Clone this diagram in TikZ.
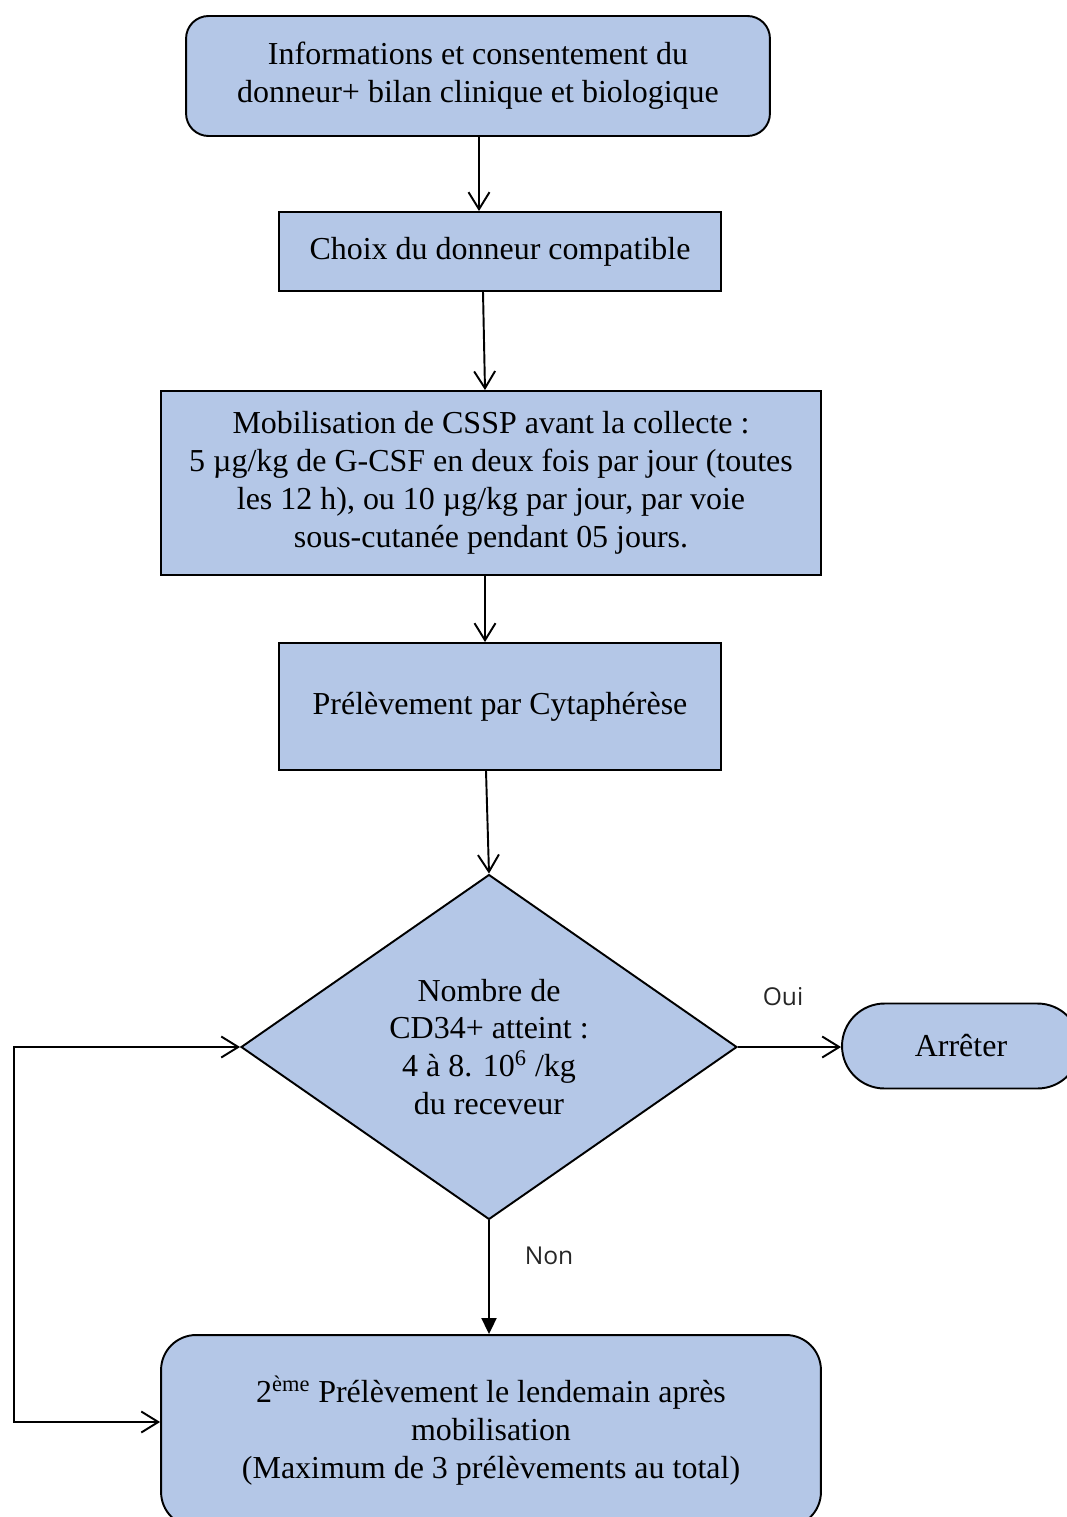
\documentclass[tikz,border=0pt]{standalone}
\usepackage{fontspec}
\setmainfont{Liberation Serif}
\newfontfamily\ouinonfont{Open Sans}
\usetikzlibrary{positioning,arrows.meta,shapes.geometric}
\definecolor{boxblue}{HTML}{B4C7E7}

\begin{document}
\begin{tikzpicture}[x=0.02cm, y=-0.02cm,
  lbl/.style={font=\ouinonfont\fontsize{14}{16}\selectfont, inner sep=1pt, text=black!85},
  stepbox/.style={draw=black, line width=1.1pt, fill=boxblue, align=center, inner sep=0pt,
    font=\fontsize{18.2}{21.6}\selectfont},
  roundbox/.style={stepbox, rounded corners=0.45cm},
  decision/.style={stepbox, diamond, aspect=1.44, minimum width=9.92cm, minimum height=6.9cm},
  pill/.style={stepbox, rounded corners=0.85cm},
  flowedge/.style={draw=black, line width=1.1pt, -{Straight Barb[length=0.34cm, width=0.42cm, line width=1.1pt]}},
  loopedge/.style={draw=black, line width=1.1pt,
    {Straight Barb[length=0.34cm, width=0.42cm, line width=1.1pt]}-{Straight Barb[length=0.34cm, width=0.42cm, line width=1.1pt]}},
  nonedge/.style={draw=black, line width=1.1pt, -{Triangle[length=0.32cm, width=0.3cm]}}
]
\clip (0,0) rectangle (1067,1517);

\node[roundbox, minimum width=11.68cm, minimum height=2.4cm] (info) at (478,76)
  {Informations et consentement du\\donneur+ bilan clinique et biologique};
\node[stepbox, minimum width=8.84cm, minimum height=1.58cm] (choix) at (500,251.5)
  {Choix du donneur compatible};
\node[stepbox, minimum width=13.2cm, minimum height=3.68cm] (mobil) at (491,483)
  {Mobilisation de CSSP avant la collecte :\\
   5 µg/kg de G-CSF en deux fois par jour (toutes\\
   les 12 h), ou 10 µg/kg par jour, par voie\\
   sous-cutanée pendant 05 jours.};
\node[stepbox, minimum width=8.84cm, minimum height=2.54cm] (prelev) at (500,706.5)
  {Prélèvement par Cytaphérèse};
\node[decision] (cd34) at (489,1047)
  {Nombre de\\CD34+ atteint :\\4 à 8. 10\textsuperscript{6} /kg\\du receveur};
\node[pill, minimum width=4.76cm, minimum height=1.7cm] (stop) at (961,1046) {Arrêter};
\node[roundbox, rounded corners=0.7cm, minimum width=13.2cm, minimum height=3.84cm] (second) at (491,1431)
  {2\textsuperscript{ème} Prélèvement le lendemain après\\mobilisation\\(Maximum de 3 prélèvements au total)};
\coordinate (loopa) at (14,1422);

\draw[flowedge] ([xshift=0.02cm]info.south) -- ([xshift=0.02cm]info.south |- choix.north);
\draw[flowedge] ([xshift=-0.34cm]choix.south) -- ([xshift=-0.12cm]mobil.north);
\draw[flowedge] ([xshift=-0.12cm]mobil.south) -- ([xshift=-0.3cm]prelev.north);
\draw[flowedge] ([xshift=-0.28cm]prelev.south) -- (cd34.north);
\draw[flowedge] (cd34.east) -- (cd34.east -| stop.west);
\draw[nonedge] (cd34.south) -- (cd34.south |- second.north);
\draw[loopedge] (loopa -| second.west) -- (loopa) -- (loopa |- cd34.west) -- (cd34.west);

\node[lbl] (oui) at (783,997) {Oui};
\node[lbl] (non) at (549,1256) {Non};

\end{tikzpicture}
\end{document}
